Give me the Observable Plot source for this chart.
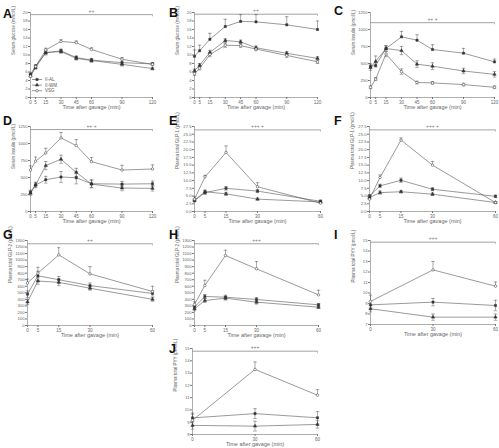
<!DOCTYPE html>
<html><head><meta charset="utf-8">
<script src="https://cdn.jsdelivr.net/npm/d3@7"></script>
<script src="https://cdn.jsdelivr.net/npm/@observablehq/plot@0.6"></script>
<style>
body{margin:0;background:#fff;}
#wrap{position:relative;width:499px;height:448px;overflow:hidden;font-family:"Liberation Sans",Arial,sans-serif;}
.p{position:absolute;}
</style></head><body><div id="wrap"></div>
<script>
const seriesNames = ["II-AL", "II-WM", "VSG"];
const timesLong = [0, 5, 15, 30, 45, 60, 90, 120];
const timesMid = [0, 5, 15, 30, 60];
const timesShort = [0, 30, 60];
const xLabel = "Time after gavage (min)";

// A: serum glucose
const A_AL  = [5.5, 7.4, 10.5, 11.0, 9.4, 8.8, 8.2, 7.9];
const A_WM  = [5.1, 7.0, 10.6, 10.8, 9.2, 8.7, 7.8, 6.8];
const A_VSG = [5.0, 7.3, 11.2, 13.2, 12.9, 11.3, 9.0, 7.8];
const A_eAL  = [0.3, 0.3, 0.5, 0.4, 0.4, 0.4, 0.4, 0.3];
const A_eWM  = [0.3, 0.3, 0.4, 0.4, 0.4, 0.4, 0.4, 0.3];
const A_eVSG = [0.3, 0.3, 0.4, 0.4, 0.4, 0.4, 0.4, 0.3];
// B: serum glucose
const B_AL  = [9.7, 11.0, 13.7, 16.7, 17.9, 17.8, 17.1, 16.0];
const B_WM  = [6.3, 7.6, 10.6, 13.4, 13.1, 11.7, 10.4, 9.2];
const B_VSG = [5.6, 6.9, 10.1, 12.3, 12.2, 11.4, 9.9, 8.4];
const B_eAL  = [1.5, 1.3, 1.4, 1.7, 1.6, 1.7, 1.9, 2.0];
const B_eWM  = [0.4, 0.4, 0.5, 0.4, 0.4, 0.4, 0.4, 0.4];
const B_eVSG = [0.4, 0.4, 0.5, 0.5, 0.4, 0.4, 0.5, 0.4];
// C: serum insulin
const C_AL  = [456, 470, 720, 892, 843, 706, 652, 524];
const C_WM  = [440, 530, 720, 690, 490, 460, 390, 340];
const C_VSG = [150, 270, 640, 380, 220, 215, 190, 150];
const C_eAL  = [40, 60, 40, 80, 80, 70, 70, 40];
const C_eWM  = [40, 80, 40, 60, 50, 50, 40, 40];
const C_eVSG = [20, 20, 40, 40, 20, 20, 20, 20];
// D: serum insulin
const D_AL  = [283, 390, 467, 507, 497, 408, 403, 408];
const D_WM  = [270, 390, 675, 768, 575, 403, 345, 340];
const D_VSG = [610, 740, 860, 1082, 969, 733, 610, 625];
const D_eAL  = [30, 30, 50, 80, 90, 60, 40, 40];
const D_eWM  = [30, 40, 60, 60, 60, 50, 40, 40];
const D_eVSG = [60, 60, 70, 80, 90, 60, 70, 60];
// E: plasma total GLP-1
const E_AL  = [3.5, 6.1, 7.5, 6.6, 3.3];
const E_WM  = [3.7, 6.4, 5.7, 4.0, 3.1];
const E_VSG = [4.0, 11.2, 19.1, 8.0, 2.7];
const E_eAL  = [0.4, 0.6, 0.6, 0.5, 0.4];
const E_eWM  = [0.4, 0.5, 0.5, 0.4, 0.3];
const E_eVSG = [0.8, 0.5, 2.1, 1.3, 0.4];
// F: plasma total GLP-1
const F_AL  = [5.0, 8.3, 10.1, 7.2, 4.9];
const F_WM  = [4.5, 6.1, 6.4, 5.6, 2.9];
const F_VSG = [4.0, 11.0, 23.1, 15.0, 2.9];
const F_eAL  = [0.5, 0.5, 0.7, 0.5, 0.4];
const F_eWM  = [0.5, 0.5, 0.4, 0.4, 0.3];
const F_eVSG = [0.6, 0.8, 0.7, 1.2, 0.3];
// G: plasma total GLP-2
const G_AL  = [480, 760, 700, 610, 490];
const G_WM  = [360, 680, 660, 570, 400];
const G_VSG = [650, 800, 1080, 790, 520];
const G_eAL  = [50, 70, 50, 40, 40];
const G_eWM  = [40, 50, 50, 30, 30];
const G_eVSG = [60, 90, 110, 110, 80];
// H: plasma total GLP-2
const H_AL  = [280, 444, 433, 398, 316];
const H_WM  = [255, 382, 418, 357, 280];
const H_VSG = [321, 612, 1071, 867, 469];
const H_eAL  = [30, 30, 30, 30, 20];
const H_eWM  = [30, 30, 30, 30, 20];
const H_eVSG = [40, 80, 80, 110, 70];
// I: plasma total PYY
const I_AL  = [8.87, 9.13, 8.81];
const I_WM  = [8.5, 7.7, 7.7];
const I_VSG = [9.2, 12.2, 10.65];
const I_eAL  = [0.3, 0.35, 0.5];
const I_eWM  = [0.3, 0.3, 0.3];
const I_eVSG = [0.6, 0.8, 0.4];
// J: plasma total PYY
const J_AL  = [9.35, 9.7, 9.36];
const J_WM  = [8.74, 8.68, 8.82];
const J_VSG = [9.15, 13.3, 11.2];
const J_eAL  = [0.4, 0.4, 0.5];
const J_eWM  = [0.3, 0.4, 0.3];
const J_eVSG = [0.5, 0.6, 0.45];

const glucoseTicks = d3.range(0, 21, 2);
const insulinTicks = d3.range(0, 1251, 250);
const glp1Ticks = d3.range(0, 28, 2.5);
const glp2Ticks = d3.range(0, 1301, 100);
const pyyTicksI = d3.range(7, 16, 1);
const pyyTicksJ = d3.range(8, 16, 1);

const panels = [
  {letter:"A", lp:[3,18], area:[30,12,152,97], times:timesLong, vals:[A_AL,A_WM,A_VSG], errs:[A_eAL,A_eWM,A_eVSG], ticks:glucoseTicks, fmt:"d", ylabel:"Serum glucose (mmol/L)", sig:"++", sigY:19.5},
  {letter:"B", lp:[169,17], area:[194,12,317,97], times:timesLong, vals:[B_AL,B_WM,B_VSG], errs:[B_eAL,B_eWM,B_eVSG], ticks:glucoseTicks, fmt:"d", ylabel:"Serum glucose (mmol/L)", sig:"++", sigY:19.6},
  {letter:"C", lp:[334,15], area:[370,12,494,97], times:timesLong, vals:[C_AL,C_WM,C_VSG], errs:[C_eAL,C_eWM,C_eVSG], ticks:insulinTicks, fmt:"d", ylabel:"Serum insulin (pmol/L)", sig:"++ +", sigY:1100},
  {letter:"D", lp:[3,125], area:[30,126,152,211], times:timesLong, vals:[D_AL,D_WM,D_VSG], errs:[D_eAL,D_eWM,D_eVSG], ticks:insulinTicks, fmt:"d", ylabel:"Serum insulin (pmol/L)", sig:"++ +", sigY:1205},
  {letter:"E", lp:[169,125], area:[194,126,320,211], times:timesMid, vals:[E_AL,E_WM,E_VSG], errs:[E_eAL,E_eWM,E_eVSG], ticks:glp1Ticks, fmt:".1f", ylabel:"Plasma total GLP-1 (pmol/L)", sig:"+++ +", sigY:26.4},
  {letter:"F", lp:[334,125], area:[369,126,495,211], times:timesMid, vals:[F_AL,F_WM,F_VSG], errs:[F_eAL,F_eWM,F_eVSG], ticks:glp1Ticks, fmt:".1f", ylabel:"Plasma total GLP-1 (pmol/L)", sig:"+++ +", sigY:26.4},
  {letter:"G", lp:[3,239], area:[27,240,152,325], times:timesMid, vals:[G_AL,G_WM,G_VSG], errs:[G_eAL,G_eWM,G_eVSG], ticks:glp2Ticks, fmt:"d", ylabel:"Plasma total GLP-2 (pmol/L)", sig:"++", sigY:1250},
  {letter:"H", lp:[169,239], area:[194,240,318,325], times:timesMid, vals:[H_AL,H_WM,H_VSG], errs:[H_eAL,H_eWM,H_eVSG], ticks:glp2Ticks, fmt:"d", ylabel:"Plasma total GLP-2 (pmol/L)", sig:"+++", sigY:1250},
  {letter:"I", lp:[334,239], area:[370,240,495,324], times:timesShort, vals:[I_AL,I_WM,I_VSG], errs:[I_eAL,I_eWM,I_eVSG], ticks:pyyTicksI, fmt:"d", ylabel:"Plasma total PYY (pmol/L)", sig:"+++", sigY:14.84},
  {letter:"J", lp:[169,353], area:[192,348,317,434], times:timesShort, vals:[J_AL,J_WM,J_VSG], errs:[J_eAL,J_eWM,J_eVSG], ticks:pyyTicksJ, fmt:"d", ylabel:"Plasma total PYY (pmol/L)", sig:"+++", sigY:14.78}
];

const ink = "#555";
const capSym = {draw(ctx, size){ const w = Math.sqrt(size) * 0.45; ctx.moveTo(-w, 0); ctx.lineTo(w, 0); }};
const wrap = document.getElementById("wrap");

function build(p){
  const mL = 30, mR = 8, mT = 14, mB = 22;
  const [l, t, r, b] = p.area;
  const W = r - l + mL + mR, H = b - t + mT + mB;
  const xmax = p.times[p.times.length - 1];
  const y0 = p.ticks[0], y1 = p.ticks[p.ticks.length - 1];
  const rows = [];
  seriesNames.forEach((s, i) => p.times.forEach((x, j) => rows.push({s, x, y: p.vals[i][j], e: p.errs[i][j]})));
  const means = seriesNames.map((s, i) => d3.mean(p.vals[i]));
  const top = seriesNames[d3.maxIndex(means)];
  rows.forEach(d => { d.hi = d.y + d.e; d.lo = d.s === top ? d.y : d.y - d.e; });
  const tickLen = (y1 - y0) * 0.025;
  const plot = Plot.plot({
    width: W, height: H, marginLeft: mL, marginRight: mR, marginTop: mT, marginBottom: mB,
    style: {fontFamily: "Liberation Sans, Arial, sans-serif", fontSize: "4.5px", color: "#666", background: "transparent", overflow: "visible"},
    x: {domain: [0, xmax]},
    y: {domain: [y0, y1]},
    symbol: {domain: seriesNames, range: ["square", "triangle", "circle"]},
    marks: [
      Plot.ruleX([0], {stroke: "#777", strokeWidth: 0.6}),
      Plot.ruleY([y0], {stroke: "#777", strokeWidth: 0.6}),
      Plot.ruleY([p.sigY], {x1: 0, x2: xmax, stroke: "#999", strokeWidth: 0.9}),
      Plot.ruleX([xmax], {y1: p.sigY, y2: p.sigY - tickLen, stroke: "#999", strokeWidth: 0.7}),
      Plot.text([p.sig], {x: xmax / 2, y: p.sigY, dy: -3.5, fontSize: 5, fill: "#777"}),
      Plot.line(rows, {x: "x", y: "y", z: "s", stroke: ink, strokeWidth: 0.6}),
      Plot.ruleX(rows, {x: "x", y1: "lo", y2: "hi", stroke: ink, strokeWidth: 0.5}),
      Plot.dot(rows, {x: "x", y: "hi", symbol: capSym, r: 2.2, fill: "none", stroke: ink, strokeWidth: 0.5}),
      Plot.dot(rows.filter(d => d.s !== top), {x: "x", y: "lo", symbol: capSym, r: 2.2, fill: "none", stroke: ink, strokeWidth: 0.5}),
      Plot.dot(rows, {x: "x", y: "y", symbol: "s", r: 1.25, fill: d => d.s === "VSG" ? "white" : "#333", stroke: "#333", strokeWidth: 0.5}),
      Plot.axisX({ticks: p.times, tickSize: 2, tickPadding: 1, label: null, stroke: "#777", fontSize: 4.5}),
      Plot.axisY({ticks: p.ticks, tickSize: 2, tickPadding: 1, label: null, tickFormat: d3.format(p.fmt), stroke: "#777", fontSize: 4.2}),
      Plot.text([p.ylabel], {frameAnchor: "left", rotate: -90, dx: -17, fontSize: 4.5, fill: "#666"}),
      Plot.text([xLabel], {frameAnchor: "bottom", dy: 11, fontSize: 5.5, fill: "#666"})
    ]
  });
  plot.classList.add("p");
  plot.style.left = (l - mL) + "px";
  plot.style.top = (t - mT) + "px";
  wrap.appendChild(plot);
}
panels.forEach(build);

// overlay: panel letters and legend
const ns = "http://www.w3.org/2000/svg";
const ov = document.createElementNS(ns, "svg");
ov.setAttribute("width", 499); ov.setAttribute("height", 448);
ov.setAttribute("class", "p"); ov.style.left = "0px"; ov.style.top = "0px";
ov.style.pointerEvents = "none";
panels.forEach(p => {
  const t = document.createElementNS(ns, "text");
  t.setAttribute("x", p.lp[0]); t.setAttribute("y", p.lp[1]);
  t.setAttribute("font-family", "Liberation Sans, Arial, sans-serif");
  t.setAttribute("font-weight", "bold"); t.setAttribute("font-size", "12.5");
  t.setAttribute("fill", "#111");
  t.textContent = p.letter;
  ov.appendChild(t);
});
const legendShapes = [d3.symbolSquare, d3.symbolTriangle, d3.symbolCircle];
seriesNames.forEach((s, i) => {
  const yy = 79.5 + i * 5.6;
  const ln = document.createElementNS(ns, "line");
  ln.setAttribute("x1", 32); ln.setAttribute("x2", 42); ln.setAttribute("y1", yy); ln.setAttribute("y2", yy);
  ln.setAttribute("stroke", ink); ln.setAttribute("stroke-width", 0.6);
  ov.appendChild(ln);
  const pth = document.createElementNS(ns, "path");
  pth.setAttribute("d", d3.symbol(legendShapes[i], 5)());
  pth.setAttribute("transform", `translate(37,${yy})`);
  pth.setAttribute("fill", s === "VSG" ? "white" : "#333");
  pth.setAttribute("stroke", "#333"); pth.setAttribute("stroke-width", 0.5);
  ov.appendChild(pth);
  const tx = document.createElementNS(ns, "text");
  tx.setAttribute("x", 45); tx.setAttribute("y", yy + 1.6);
  tx.setAttribute("font-family", "Liberation Sans, Arial, sans-serif");
  tx.setAttribute("font-size", "4.5"); tx.setAttribute("fill", "#555");
  tx.textContent = s;
  ov.appendChild(tx);
});
wrap.appendChild(ov);
</script></body></html>
